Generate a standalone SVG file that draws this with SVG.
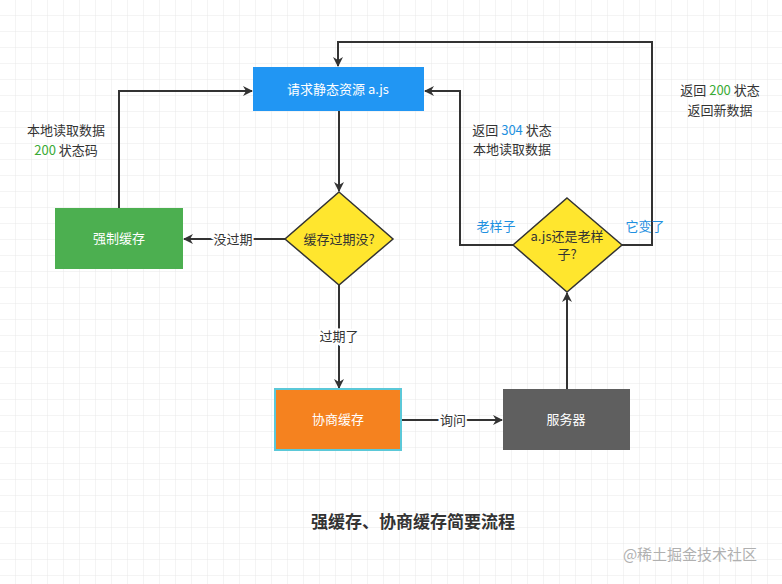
<svg xmlns="http://www.w3.org/2000/svg" width="782" height="584" viewBox="0 0 782 584">
<defs>
<pattern id="grid" width="16" height="16" patternUnits="userSpaceOnUse"><path d="M16 0V16H0" fill="none" stroke="#e8e8e8" stroke-width="1"/></pattern>
<marker id="ar" markerWidth="10" markerHeight="10" refX="9" refY="5" orient="auto" markerUnits="userSpaceOnUse"><path d="M0,0 L10,5 L0,10 L3,5 z" fill="#333"/></marker>
<style>
text{font-family:"Noto Sans CJK SC","Noto Sans",sans-serif;font-size:13px;fill:#333;text-anchor:middle}
.w{fill:#fff;font-size:13px}
.b{fill:#1e90e0}
.g{fill:#3aaa35}
.c{fill:none;stroke:#333;stroke-width:2;marker-end:url(#ar)}
.l{fill:none;stroke:#333;stroke-width:2}
.lb{paint-order:stroke;stroke:#fff;stroke-width:4px}
</style>
</defs>
<rect width="782" height="584" fill="#fff"/>
<rect width="782" height="584" fill="url(#grid)"/>
<g id="connectors">
<polyline class="c" points="119,208 119,91 252,91"/>
<polyline class="c" points="339,111 339,191"/>
<polyline class="c" points="285,239 184,239"/>
<polyline class="c" points="339,285 339,388"/>
<polyline class="c" points="401,420 502,420"/>
<polyline class="c" points="567,389 567,293"/>
<polyline class="c" points="513,245 460,245 460,91 425,91"/>
<polyline class="c" points="622,245 652,245 652,42 338,42 338,66"/>
<text x="233" y="244" class="lb">没过期</text>
<text x="339" y="341" class="lb">过期了</text>
<text x="453" y="425" class="lb">询问</text>
<text x="496" y="231" class="b">老样子</text>
<text x="645" y="231" class="b">它变了</text>
<text x="66" y="135">本地读取数据</text>
<text x="66" y="155"><tspan class="g">200</tspan> 状态码</text>
<text x="512" y="135">返回 <tspan class="b">304</tspan> 状态</text>
<text x="512" y="154">本地读取数据</text>
<text x="720" y="95">返回 <tspan class="g">200</tspan> 状态</text>
<text x="720" y="115">返回新数据</text>
</g>
<g id="request"><rect x="253" y="67" width="171" height="44" fill="#2196f3"/><text x="338" y="94" class="w">请求静态资源 a.js</text></g>
<g id="expired"><polygon points="339,192 393,239 339,285 285,239" fill="#ffe62e" stroke="#333" stroke-width="1.5"/><text x="339" y="244">缓存过期没?</text></g>
<g id="force"><rect x="55" y="208" width="128" height="61" fill="#4caf50"/><text x="119" y="243" class="w">强制缓存</text></g>
<g id="same"><polygon points="567,198 622,245 567,292 513,245" fill="#ffe62e" stroke="#333" stroke-width="1.5"/><text x="567" y="241">a.js还是老样</text><text x="567" y="259">子?</text></g>
<g id="nego"><rect x="275" y="389" width="126" height="61" fill="#f5821f" stroke="#5bc8d8" stroke-width="2"/><text x="338" y="424" class="w">协商缓存</text></g>
<g id="server"><rect x="503" y="389" width="127" height="61" fill="#5f5f5f"/><text x="566" y="424" class="w">服务器</text></g>
<text x="413" y="528" style="font-size:17px;font-weight:bold">强缓存、协商缓存简要流程</text>
<text x="690" y="560" style="font-size:15px;fill:#b0b0b0">@稀土掘金技术社区</text>
</svg>
